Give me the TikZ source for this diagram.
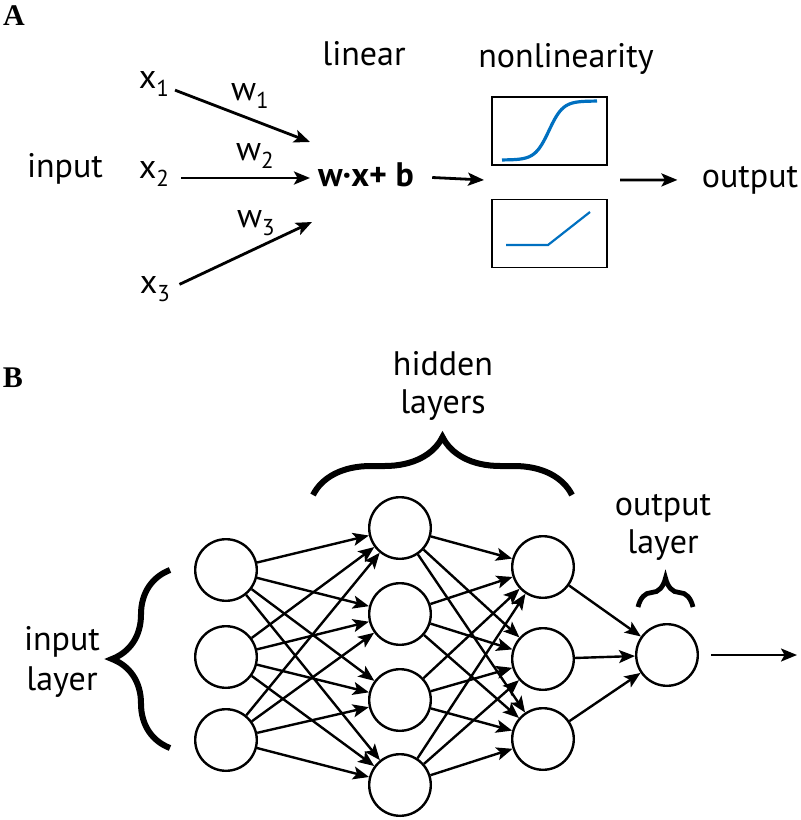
\documentclass[tikz,border=0pt]{standalone}
\usepackage{fontspec}
\setmainfont{PT Sans}
\newfontfamily\panelfont{Liberation Serif}
\usetikzlibrary{arrows.meta,decorations.pathreplacing}
\definecolor{curveblue}{RGB}{0,112,192}
\newcommand{\lowsub}[1]{\raisebox{-4pt}{\fontsize{11.5}{12}\selectfont #1}}

\begin{document}
\begin{tikzpicture}[x=0.5pt,y=-0.5pt,
    font=\fontsize{17}{20}\selectfont,
    lbl/.style={anchor=base,inner sep=0pt},
    panel/.style={anchor=base,inner sep=0pt,font=\panelfont\bfseries\fontsize{15}{18}\selectfont},
    neuron/.style={shape=circle,draw=black,line width=1.2pt,minimum size=30.8pt,inner sep=0pt},
    arr/.style={draw=black,line width=1.2pt,-{Stealth[length=8pt,width=6.5pt,inset=1.8pt]}},
    warr/.style={arr,line width=1.4pt},
    fbox/.style={draw=black,line width=0.9pt,minimum width=57.5pt,minimum height=34pt,inner sep=0pt},
    bigbrace/.style={decorate,decoration={brace,amplitude=29pt},line width=3pt},
    smallbrace/.style={decorate,decoration={brace,amplitude=14.5pt},line width=2.4pt}]
    \useasboundingbox (0,0) rectangle (800,820);

    \node[panel] (A) at (14,25) {A};
    \node[lbl] (inp) at (65,177) {input};
    \node[lbl] (x1) at (154,88) {x\lowsub{1}};
    \node[lbl] (x2) at (154,178) {x\lowsub{2}};
    \node[lbl] (x3) at (155,293) {x\lowsub{3}};
    \node[lbl] (w1) at (250,100) {w\lowsub{1}};
    \node[lbl] (w2) at (255,160) {w\lowsub{2}};
    \node[lbl] (w3) at (256,227) {w\lowsub{3}};
    \node[lbl] (linear) at (364,65) {linear};
    \node[lbl] (lin) at (366,186) {\textbf{w·x+ b}};
    \node[lbl] (nonlin) at (566,67) {nonlinearity};
    \node[fbox] (sig) at (549.5,131) {};
    \node[fbox] (relu) at (549.5,233.5) {};
    \node[lbl] (outp) at (750,187) {output};
    \coordinate (e1) at (310,142);
    \coordinate (e2) at (310,178);
    \coordinate (e3) at (312,222);
    \coordinate (nlin) at (484,180);
    \coordinate (nlout) at (620,180);
    \path (x1.base east) edge[warr,shorten <=3pt] (e1);
    \path (x2.base east) edge[warr,shorten <=6pt] (e2);
    \path (x3.east) edge[warr,shorten <=5pt] (e3);
    \path (lin) edge[warr,shorten <=9pt] (nlin);
    \path (nlout) edge[warr,shorten >=12pt] (outp);
    \draw[curveblue,line width=1.6pt] plot[domain=502:597,samples=60] (\x,{160-59/(1+exp(-(\x-549)/7))});
    \draw[curveblue,line width=1.1pt] (506,245) -- (548,245) -- (590,212);

    \node[panel] (B) at (13,387) {B};
    \node[lbl] (hid) at (443,375) {hidden};
    \node[lbl] (hidl) at (443,413) {layers};
    \node[lbl] (outl) at (663,515) {output};
    \node[lbl] (outll) at (663,553) {layer};
    \node[lbl] (inl) at (62,650) {input};
    \node[lbl] (inll) at (62,690) {layer};
    \draw[bigbrace] (170,748) -- (170,570);
    \draw[bigbrace] (313,495) -- (572,495);
    \draw[smallbrace] (638,607) -- (693,607);

    \node[neuron] (i1) at (226,570) {};
    \node[neuron] (i2) at (226,657) {};
    \node[neuron] (i3) at (226,740) {};
    \node[neuron] (h1) at (400,528) {};
    \node[neuron] (h2) at (400,614) {};
    \node[neuron] (h3) at (400,700) {};
    \node[neuron] (h4) at (400,785) {};
    \node[neuron] (g1) at (543,567) {};
    \node[neuron] (g2) at (543,659) {};
    \node[neuron] (g3) at (543,739) {};
    \node[neuron] (o1) at (667,655) {};
    \coordinate (fin) at (797,655);

    \path (i1) edge[arr] (h1);
    \path (i1) edge[arr] (h2);
    \path (i1) edge[arr] (h3);
    \path (i1) edge[arr] (h4);
    \path (i2) edge[arr] (h1);
    \path (i2) edge[arr] (h2);
    \path (i2) edge[arr] (h3);
    \path (i2) edge[arr] (h4);
    \path (i3) edge[arr] (h1);
    \path (i3) edge[arr] (h2);
    \path (i3) edge[arr] (h3);
    \path (i3) edge[arr] (h4);
    \path (h1) edge[arr] (g1);
    \path (h1) edge[arr] (g2);
    \path (h1) edge[arr] (g3);
    \path (h2) edge[arr] (g1);
    \path (h2) edge[arr] (g2);
    \path (h2) edge[arr] (g3);
    \path (h3) edge[arr] (g1);
    \path (h3) edge[arr] (g2);
    \path (h3) edge[arr] (g3);
    \path (h4) edge[arr] (g1);
    \path (h4) edge[arr] (g2);
    \path (h4) edge[arr] (g3);
    \path (g1) edge[arr] (o1);
    \path (g2) edge[arr] (o1);
    \path (g3) edge[arr] (o1);
    \path (o1) edge[arr,shorten <=6pt] (fin);
\end{tikzpicture}
\end{document}
